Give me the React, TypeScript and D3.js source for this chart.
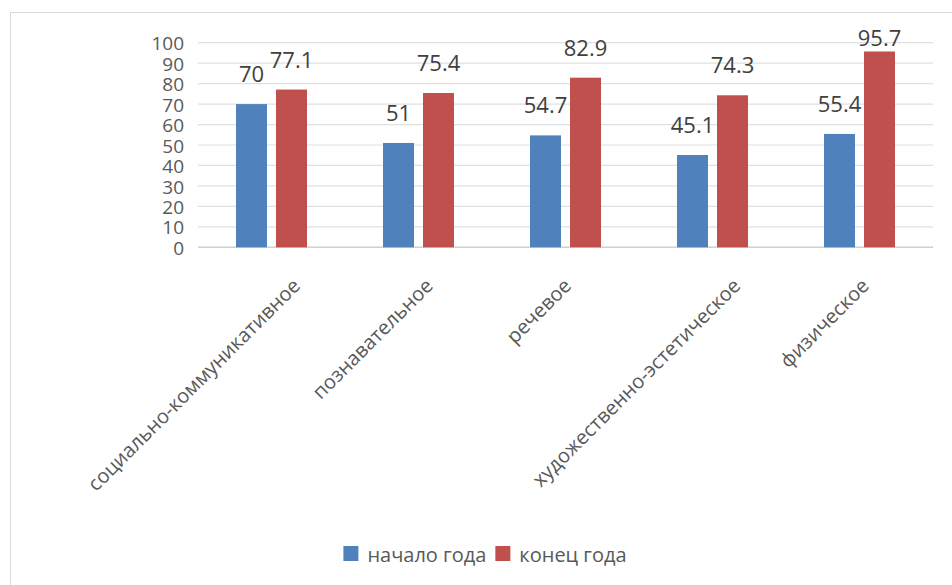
import { useEffect, useRef } from "react";
import * as d3 from "d3";

const categories = [
  "социально-коммуникативное",
  "познавательное",
  "речевое",
  "художественно-эстетическое",
  "физическое",
];
const seriesNames = ["начало года", "конец года"];
const startValues = [70, 51, 54.7, 45.1, 55.4];
const endValues = [77.1, 75.4, 82.9, 74.3, 95.7];
const yTicks = [0, 10, 20, 30, 40, 50, 60, 70, 80, 90, 100];
const colors = ["#4f81bd", "#c0504d"];

const FONT = "'Open Sans', 'DejaVu Sans', sans-serif";

function Chart() {
  const ref = useRef<SVGSVGElement>(null);

  useEffect(() => {
    const svg = d3.select(ref.current);
    svg.selectAll("*").remove();
    const width = 952;
    const height = 585;
    const margin = { left: 198, right: 19, top: 42.7, bottom: 337.7 };

    // outer chart border
    svg
      .append("rect")
      .attr("x", 10.5)
      .attr("y", 12.5)
      .attr("width", width + 20)
      .attr("height", height + 20)
      .attr("fill", "#fff")
      .attr("stroke", "#d9d9d9");

    const x = d3
      .scaleBand<string>()
      .domain(categories)
      .range([margin.left, width - margin.right]);

    const x1 = d3
      .scaleBand<string>()
      .domain(seriesNames)
      .range([38, x.bandwidth() - 38])
      .paddingInner(0.225);

    const y = d3
      .scaleLinear()
      .domain([0, 100])
      .range([height - margin.bottom, margin.top]);

    // gridlines
    svg
      .append("g")
      .selectAll("line")
      .data(yTicks)
      .join("line")
      .attr("x1", margin.left)
      .attr("x2", width - margin.right)
      .attr("y1", (d) => y(d))
      .attr("y2", (d) => y(d))
      .attr("stroke", (d) => (d === 0 ? "#d0d0d0" : "#e0e0e0"))
      .attr("stroke-width", (d) => (d === 0 ? 1.5 : 1.2));

    // y tick labels
    svg
      .append("g")
      .selectAll("text")
      .data(yTicks)
      .join("text")
      .attr("x", 184)
      .attr("y", (d) => y(d) + 1)
      .attr("dy", "0.35em")
      .attr("text-anchor", "end")
      .attr("font-family", FONT)
      .attr("font-size", 19)
      .attr("fill", "#595959")
      .text((d) => d);

    const rows = categories.map((c, i) => ({
      category: c,
      values: [startValues[i], endValues[i]],
    }));

    const groups = svg
      .append("g")
      .selectAll("g")
      .data(rows)
      .join("g")
      .attr("transform", (d) => `translate(${x(d.category)},0)`);

    groups
      .selectAll("rect")
      .data((d) => d.values.map((v, j) => ({ v, s: seriesNames[j], j })))
      .join("rect")
      .attr("x", (d) => x1(d.s) ?? 0)
      .attr("y", (d) => y(d.v))
      .attr("width", x1.bandwidth())
      .attr("height", (d) => y(0) - y(d.v))
      .attr("fill", (d) => colors[d.j]);

    groups
      .selectAll("text.val")
      .data((d) => d.values.map((v, j) => ({ v, s: seriesNames[j], j })))
      .join("text")
      .attr("class", "val")
      .attr("x", (d) => (x1(d.s) ?? 0) + x1.bandwidth() / 2)
      .attr("y", (d) => Math.max(y(d.v) - 22, 46))
      .attr("text-anchor", "middle")
      .attr("font-family", FONT)
      .attr("font-size", 22)
      .attr("fill", "#404040")
      .text((d) => d.v);

    // rotated category labels
    const cat = svg
      .append("g")
      .selectAll("text")
      .data(categories)
      .join("text")
      .attr("text-anchor", "end")
      .attr("font-family", FONT)
      .attr("font-size", 20)
      .attr("fill", "#595959")
      .text((d) => d);

    cat.each(function (d) {
      const len = (this as SVGTextElement).getComputedTextLength();
      const cx = (x(d) ?? 0) + x.bandwidth() / 2 - 2 + 0.11 * len;
      d3.select(this).attr("transform", `translate(${cx},287) rotate(-45)`);
    });

    // legend
    const legend = svg.append("g");
    const items = legend
      .selectAll("g")
      .data(seriesNames)
      .join("g");
    items
      .append("rect")
      .attr("width", 15)
      .attr("height", 15)
      .attr("y", 546)
      .attr("fill", (_, i) => colors[i]);
    items
      .append("text")
      .attr("x", 24)
      .attr("y", 562)
      .attr("font-family", FONT)
      .attr("font-size", 20)
      .attr("fill", "#595959")
      .text((d) => d);

    let offset = 0;
    const widths: number[] = [];
    items.each(function () {
      const t = d3.select(this).select("text").node() as SVGTextElement;
      widths.push(24 + t.getComputedTextLength());
    });
    const total = d3.sum(widths) + 9 * (widths.length - 1);
    const start = 485 - total / 2;
    items.attr("transform", (_, i) => {
      const tx = start + offset;
      offset += widths[i] + 9;
      return `translate(${tx},0)`;
    });
  }, []);

  return (
    <svg
      ref={ref}
      width={952}
      height={585}
      style={{ position: "absolute", left: 0, top: 0 }}
    />
  );
}

export default function App() {
  return <Chart />;
}
